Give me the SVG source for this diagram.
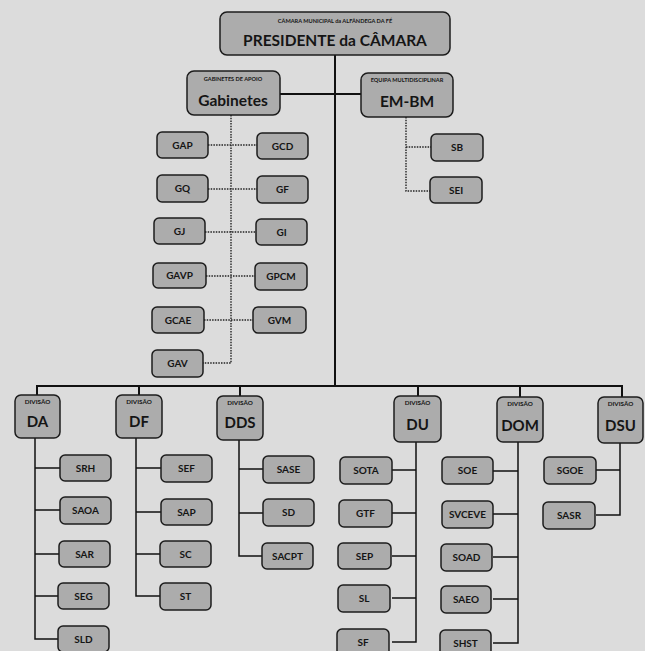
<svg xmlns="http://www.w3.org/2000/svg" width="645" height="651" viewBox="0 0 645 651">
<style>
.bg{fill:#dcdcdc}
.box{fill:#acacac;stroke:#1c1c1c;stroke-width:1.5}
.t{font-family:Lato,"Liberation Sans",sans-serif;font-weight:700;fill:#151515;text-anchor:middle}
.big{font-size:15.5px}
.div{font-size:15px}
.sm{font-size:10px}
.tiny{font-size:5.6px}
.dv{font-size:6.3px}
.solid{stroke:#111;stroke-width:2;fill:none}
.thin{stroke:#111;stroke-width:1.5;fill:none}
.dot{stroke:#222;stroke-width:1.4;stroke-dasharray:1.5 1.2;fill:none}
</style>
<rect class="bg" x="0" y="0" width="645" height="651"/>
<g id="connectors">
<path class="solid" d="M335 55V386M280 94H361M36 386H623M37 386V395M139 386V395M240 386V396M418 386V396M520 386V397M622 386V397"/>
<path class="dot" d="M231 115V363H203M208 145H257M208 189H257M205 232H256M206 276H255M204 320H253"/>
<path class="dot" d="M406 117V191H430M406 147H431"/>
<path class="thin" d="M35 438V639H60M35 468H60M35 510H60M35 554H60M35 596H60"/>
<path class="thin" d="M136 438V596H161M136 468H161M136 512H161M136 554H161"/>
<path class="thin" d="M239 440V556H263M239 469H263M239 513H263"/>
<path class="thin" d="M416 442V642H392M416 470H392M416 513H392M416 556H392M416 598H392"/>
<path class="thin" d="M518 442V643H493M518 471H493M518 514H493M518 557H493M518 599H493"/>
<path class="thin" d="M620 443V515H596M620 470H596"/>
</g>
<g id="presidente"><rect class="box" x="220" y="12" width="230" height="43" rx="7"/><text class="t tiny" x="335" y="22.5">CÂMARA MUNICIPAL da ALFÂNDEGA DA FÉ</text><text class="t big" x="335" y="46">PRESIDENTE da CÂMARA</text></g>
<g id="gabinetes"><rect class="box" x="187" y="71" width="93" height="44" rx="7"/><text class="t tiny" x="233" y="80.5">GABINETES DE APOIO</text><text class="t big" x="233" y="106">Gabinetes</text></g>
<g id="embm"><rect class="box" x="361" y="73" width="92" height="44" rx="7"/><text class="t tiny" x="407" y="82">EQUIPA MULTIDISCIPLINAR</text><text class="t big" x="407" y="107">EM-BM</text></g>
<g id="gap"><rect class="box" x="157" y="132" width="51" height="26" rx="5"/><text class="t sm" x="182.5" y="148.5">GAP</text></g>
<g id="gcd"><rect class="box" x="257" y="133" width="51" height="26" rx="5"/><text class="t sm" x="282.5" y="149.5">GCD</text></g>
<g id="gq"><rect class="box" x="157" y="175" width="51" height="27" rx="5"/><text class="t sm" x="182.5" y="192">GQ</text></g>
<g id="gf"><rect class="box" x="257" y="176" width="51" height="27" rx="5"/><text class="t sm" x="282.5" y="193">GF</text></g>
<g id="gj"><rect class="box" x="154" y="218" width="51" height="26" rx="5"/><text class="t sm" x="179.5" y="234.5">GJ</text></g>
<g id="gi"><rect class="box" x="256" y="219" width="51" height="26" rx="5"/><text class="t sm" x="281.5" y="235.5">GI</text></g>
<g id="gavp"><rect class="box" x="153" y="263" width="53" height="25" rx="5"/><text class="t sm" x="179.5" y="279">GAVP</text></g>
<g id="gpcm"><rect class="box" x="255" y="263" width="52" height="27" rx="5"/><text class="t sm" x="281" y="280">GPCM</text></g>
<g id="gcae"><rect class="box" x="152" y="307" width="52" height="26" rx="5"/><text class="t sm" x="178" y="323.5">GCAE</text></g>
<g id="gvm"><rect class="box" x="253" y="307" width="53" height="26" rx="5"/><text class="t sm" x="279.5" y="323.5">GVM</text></g>
<g id="gav"><rect class="box" x="152" y="350" width="51" height="27" rx="5"/><text class="t sm" x="177.5" y="367">GAV</text></g>
<g id="sb"><rect class="box" x="431" y="134" width="52" height="27" rx="5"/><text class="t sm" x="457" y="151">SB</text></g>
<g id="sei"><rect class="box" x="430" y="177" width="52" height="26" rx="5"/><text class="t sm" x="456" y="193.5">SEI</text></g>
<g id="da"><rect class="box" x="15" y="395" width="45" height="43" rx="6"/><text class="t dv" x="37.5" y="404">DIVISÃO</text><text class="t div" x="37.5" y="427">DA</text></g>
<g id="df"><rect class="box" x="116" y="395" width="46" height="43" rx="6"/><text class="t dv" x="139" y="404">DIVISÃO</text><text class="t div" x="139" y="427">DF</text></g>
<g id="dds"><rect class="box" x="217" y="396" width="46" height="44" rx="6"/><text class="t dv" x="240" y="405">DIVISÃO</text><text class="t div" x="240" y="428">DDS</text></g>
<g id="du"><rect class="box" x="394" y="396" width="47" height="46" rx="6"/><text class="t dv" x="417.5" y="405">DIVISÃO</text><text class="t div" x="417.5" y="430">DU</text></g>
<g id="dom"><rect class="box" x="497" y="397" width="46" height="45" rx="6"/><text class="t dv" x="520" y="406">DIVISÃO</text><text class="t div" x="520" y="431">DOM</text></g>
<g id="dsu"><rect class="box" x="598" y="397" width="45" height="46" rx="6"/><text class="t dv" x="620.5" y="406">DIVISÃO</text><text class="t div" x="620.5" y="431">DSU</text></g>
<g id="srh"><rect class="box" x="60" y="455" width="51" height="26" rx="5"/><text class="t sm" x="85.5" y="471.5">SRH</text></g>
<g id="saoa"><rect class="box" x="60" y="497" width="51" height="27" rx="5"/><text class="t sm" x="85.5" y="514">SAOA</text></g>
<g id="sar"><rect class="box" x="59" y="541" width="51" height="26" rx="5"/><text class="t sm" x="84.5" y="557.5">SAR</text></g>
<g id="seg"><rect class="box" x="58" y="583" width="51" height="26" rx="5"/><text class="t sm" x="83.5" y="599.5">SEG</text></g>
<g id="sld"><rect class="box" x="58" y="626" width="51" height="26" rx="5"/><text class="t sm" x="83.5" y="642.5">SLD</text></g>
<g id="sef"><rect class="box" x="161" y="455" width="51" height="27" rx="5"/><text class="t sm" x="186.5" y="472">SEF</text></g>
<g id="sap"><rect class="box" x="161" y="499" width="51" height="26" rx="5"/><text class="t sm" x="186.5" y="515.5">SAP</text></g>
<g id="sc"><rect class="box" x="160" y="541" width="51" height="26" rx="5"/><text class="t sm" x="185.5" y="557.5">SC</text></g>
<g id="st"><rect class="box" x="160" y="583" width="51" height="27" rx="5"/><text class="t sm" x="185.5" y="600">ST</text></g>
<g id="sase"><rect class="box" x="263" y="456" width="51" height="27" rx="5"/><text class="t sm" x="288.5" y="473">SASE</text></g>
<g id="sd"><rect class="box" x="263" y="499" width="51" height="27" rx="5"/><text class="t sm" x="288.5" y="516">SD</text></g>
<g id="sacpt"><rect class="box" x="262" y="543" width="51" height="26" rx="5"/><text class="t sm" x="287.5" y="559.5">SACPT</text></g>
<g id="sota"><rect class="box" x="340" y="457" width="52" height="27" rx="5"/><text class="t sm" x="366" y="474">SOTA</text></g>
<g id="gtf"><rect class="box" x="339" y="500" width="53" height="27" rx="5"/><text class="t sm" x="365.5" y="517">GTF</text></g>
<g id="sep"><rect class="box" x="338" y="543" width="53" height="26" rx="5"/><text class="t sm" x="364.5" y="559.5">SEP</text></g>
<g id="sl"><rect class="box" x="338" y="585" width="52" height="27" rx="5"/><text class="t sm" x="364" y="602">SL</text></g>
<g id="sf"><rect class="box" x="337" y="629" width="52" height="27" rx="5"/><text class="t sm" x="363" y="646">SF</text></g>
<g id="soe"><rect class="box" x="442" y="457" width="51" height="27" rx="5"/><text class="t sm" x="467.5" y="474">SOE</text></g>
<g id="svceve"><rect class="box" x="442" y="501" width="51" height="27" rx="5"/><text class="t sm" x="467.5" y="518">SVCEVE</text></g>
<g id="soad"><rect class="box" x="441" y="544" width="51" height="27" rx="5"/><text class="t sm" x="466.5" y="561">SOAD</text></g>
<g id="saeo"><rect class="box" x="441" y="586" width="50" height="27" rx="5"/><text class="t sm" x="466" y="603">SAEO</text></g>
<g id="shst"><rect class="box" x="440" y="630" width="51" height="27" rx="5"/><text class="t sm" x="465.5" y="647">SHST</text></g>
<g id="sgoe"><rect class="box" x="544" y="457" width="52" height="27" rx="5"/><text class="t sm" x="570" y="474">SGOE</text></g>
<g id="sasr"><rect class="box" x="543" y="502" width="52" height="27" rx="5"/><text class="t sm" x="569" y="519">SASR</text></g>
</svg>
